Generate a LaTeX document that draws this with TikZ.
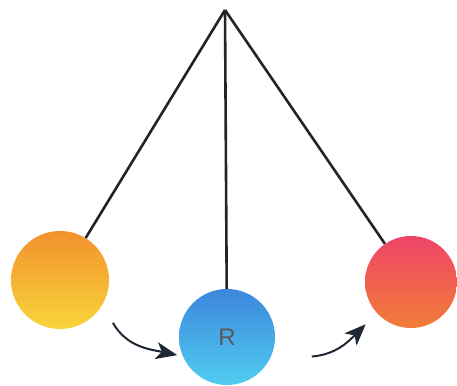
\documentclass[tikz,border=0pt]{standalone}
\usepackage{fontspec}
\setsansfont{Liberation Sans}
\usepackage{tikz}
\usetikzlibrary{arrows.meta}
\definecolor{orangetop}{HTML}{F2912C}
\definecolor{orangebot}{HTML}{F8D53B}
\definecolor{bluetop}{HTML}{3D86DC}
\definecolor{bluebot}{HTML}{50CDF0}
\definecolor{redtop}{HTML}{EE4468}
\definecolor{redbot}{HTML}{F27D38}
\definecolor{string}{HTML}{222428}
\definecolor{arrowink}{HTML}{1F2735}
\tikzset{
  ball/.style={circle, inner sep=0pt, draw=none},
  cord/.style={draw=string, line width=2.6pt},
  arr/.style={-{Stealth[length=7.5mm, width=6mm, inset=2mm]}, draw=arrowink, line width=2pt},
}

\begin{document}
\begin{tikzpicture}[x=1pt, y=1pt]
  \useasboundingbox (0,0) rectangle (457,385);
  \coordinate (pivot) at (225,375);
  \node[ball, minimum size=98pt, top color=orangetop, bottom color=orangebot] (lball) at (60,105) {};
  \node[ball, minimum size=96pt, top color=bluetop, bottom color=bluebot, font=\sffamily\fontsize{24}{24}\selectfont, text=black!65] (mball) at (227,48) {R};
  \node[ball, minimum size=92pt, top color=redtop, bottom color=redbot] (rball) at (411,103) {};
  % strings
  \draw[cord] (pivot) -- (lball);
  \draw[cord] (pivot) -- (mball);
  \draw[cord] (pivot) -- (rball);
  % swing arrows
  \draw[arr] ([shift={(-39:68pt)}]lball.center) to[out=-60, in=168] ([shift={(200:53pt)}]mball.center);
  \draw[arr] ([shift={(-13:87pt)}]mball.center) to[out=5, in=-135] ([shift={(223:62pt)}]rball.center);
\end{tikzpicture}
\end{document}
